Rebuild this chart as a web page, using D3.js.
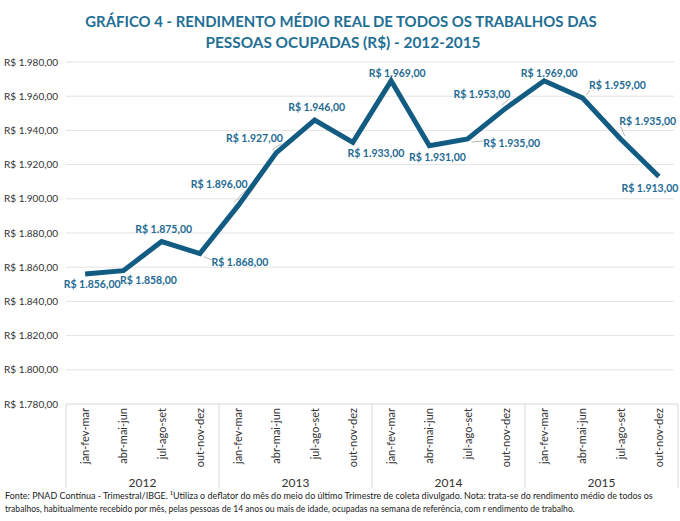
<!DOCTYPE html>
<html>
<head>
<meta charset="utf-8">
<script src="https://cdn.jsdelivr.net/npm/d3@7"></script>
<style>
  body { margin: 0; background: #fff; }
  svg { display: block; font-family: Lato, "Open Sans", sans-serif; }
</style>
</head>
<body>
<div id="chart"></div>
<script>
// Data
const years = ['2012', '2013', '2014', '2015'];
const quarters = ['jan-fev-mar', 'abr-mai-jun', 'jul-ago-set', 'out-nov-dez'];
const values = [1856, 1858, 1875, 1868, 1896, 1927, 1946, 1933,
                1969, 1931, 1935, 1953, 1969, 1959, 1935, 1913];
const yTicks = [1780, 1800, 1820, 1840, 1860, 1880, 1900, 1920, 1940, 1960, 1980];

// label placement relative to each point (layout only)
const labelOffsets = [
  [7, 10], [25, 10], [2, -12], [40, 9], [-19, -21], [-22, -14], [2, -13], [23, 11],
  [6, -7], [8, 12], [44, 4], [-24, -14], [5, -7], [35, -13], [27, -18], [-9, 12]
];
const withLeader = [3, 4, 5, 10, 11, 13, 14];

const W = 680, H = 521;
const margin = { top: 62, right: 2, bottom: 117, left: 66 };

const fmt = v => 'R$ ' + d3.format(',.2f')(v).replace(/,/g, 'X').replace('.', ',').replace(/X/g, '.');

// shrink a text's font until it fits the given width
function fitWidth(sel, width, size) {
  sel.attr('font-size', size + 'px');
  const w = sel.node().getComputedTextLength();
  if (w > width) sel.attr('font-size', (size * width / w).toFixed(2) + 'px');
}

const svg = d3.select('#chart').append('svg')
  .attr('width', W)
  .attr('height', H);

// Title
const titleG = svg.append('g')
  .attr('text-anchor', 'middle')
  .attr('fill', '#1f6f95')
  .attr('font-weight', 'bold');
fitWidth(titleG.append('text').attr('x', 341).attr('y', 27)
  .text('GRÁFICO 4 - RENDIMENTO MÉDIO REAL DE TODOS OS TRABALHOS DAS'), 512, 17);
fitWidth(titleG.append('text').attr('x', 343).attr('y', 48)
  .text('PESSOAS OCUPADAS (R$) - 2012-2015'), 275, 17);

const x0 = margin.left, x1 = W - margin.right;
const yTop = margin.top, yBot = H - margin.bottom;

const x = d3.scaleBand()
  .domain(d3.range(values.length))
  .range([x0, x1]);

const xYear = d3.scaleBand()
  .domain(years)
  .range([x0, x1]);

const y = d3.scaleLinear()
  .domain([1780, 1980])
  .range([yBot, yTop]);

// Grid
svg.append('g')
  .selectAll('line')
  .data(yTicks.slice(1))
  .enter()
  .append('line')
  .attr('x1', x0)
  .attr('x2', x1 - 4)
  .attr('y1', d => y(d))
  .attr('y2', d => y(d))
  .attr('stroke', '#e3e3e3')
  .attr('stroke-width', 1);

// Y axis labels
svg.append('g')
  .selectAll('text')
  .data(yTicks)
  .enter()
  .append('text')
  .attr('x', 4)
  .attr('y', d => y(d))
  .attr('dy', '0.35em')
  .attr('font-size', '10px')
  .attr('fill', '#333')
  .text(d => fmt(d));

// X axis (multi-level)
const xAxis = svg.append('g');
xAxis.append('line')
  .attr('x1', x0).attr('x2', x1)
  .attr('y1', yBot).attr('y2', yBot)
  .attr('stroke', '#d9d9d9');

xAxis.selectAll('.sep')
  .data(years.concat(['end']))
  .enter()
  .append('line')
  .attr('class', 'sep')
  .attr('x1', d => d === 'end' ? x1 : xYear(d))
  .attr('x2', d => d === 'end' ? x1 : xYear(d))
  .attr('y1', yBot)
  .attr('y2', yBot + 84)
  .attr('stroke', '#d9d9d9');

xAxis.selectAll('.qlab')
  .data(values)
  .enter()
  .append('text')
  .attr('class', 'qlab')
  .attr('transform', (d, i) => `translate(${x(i) + x.bandwidth() / 2 + 4},${yBot + 4}) rotate(-90)`)
  .attr('text-anchor', 'end')
  .attr('font-size', '11px')
  .attr('fill', '#333')
  .text((d, i) => quarters[i % 4]);

xAxis.selectAll('.ylab')
  .data(years)
  .enter()
  .append('text')
  .attr('class', 'ylab')
  .attr('x', d => xYear(d) + xYear.bandwidth() / 2)
  .attr('y', yBot + 83)
  .attr('text-anchor', 'middle')
  .attr('font-size', '12px')
  .attr('fill', '#333')
  .text(d => d);

// Line
const px = i => x(i) + x.bandwidth() / 2;
const line = d3.line()
  .x((d, i) => px(i))
  .y(d => y(d));

svg.append('path')
  .datum(values)
  .attr('fill', 'none')
  .attr('stroke', '#125c83')
  .attr('stroke-width', 5)
  .attr('stroke-linejoin', 'miter')
  .attr('d', line);

// Leader lines
svg.append('g')
  .selectAll('line')
  .data(withLeader)
  .enter()
  .append('line')
  .attr('x1', i => px(i) + Math.sign(labelOffsets[i][0]) * 4)
  .attr('y1', i => y(values[i]) + Math.sign(labelOffsets[i][1]) * 3)
  .attr('x2', i => px(i) + labelOffsets[i][0] - Math.sign(labelOffsets[i][0]) * 27)
  .attr('y2', i => y(values[i]) + labelOffsets[i][1] + (labelOffsets[i][1] > 0 ? -2 : 5))
  .attr('stroke', '#a6a6a6')
  .attr('stroke-width', 0.8);

// Data labels
svg.append('g')
  .selectAll('text')
  .data(values)
  .enter()
  .append('text')
  .attr('x', (d, i) => px(i) + labelOffsets[i][0])
  .attr('y', (d, i) => y(d) + labelOffsets[i][1])
  .attr('dy', '0.35em')
  .attr('text-anchor', 'middle')
  .attr('font-size', '10.5px')
  .attr('font-weight', 'bold')
  .attr('fill', '#1f6b93')
  .text(d => fmt(d));

// Footnote
const note = svg.append('g')
  .attr('fill', '#222');
fitWidth(note.append('text').attr('x', 5).attr('y', 499)
  .text('Fonte: PNAD Contínua - Trimestral/IBGE. \u00B9Utiliza o deflator do mês do meio do último Trimestre de coleta divulgado.  Nota: trata-se do rendimento médio de todos os'), 648, 9.5);
fitWidth(note.append('text').attr('x', 5).attr('y', 512)
  .text('trabalhos, habitualmente recebido por mês, pelas pessoas de 14 anos ou mais de idade, ocupadas na semana de referência, com r endimento de trabalho.'), 570, 9.5);
</script>
</body>
</html>
